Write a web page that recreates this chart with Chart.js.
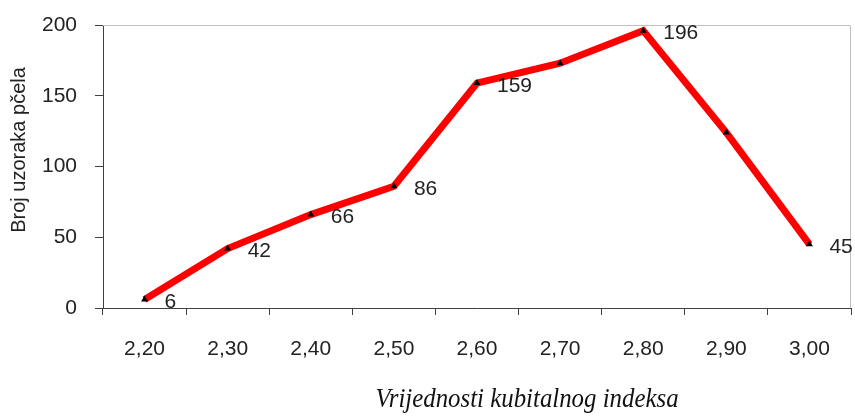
<!DOCTYPE html>
<html lang="hr">
  <head>
    <meta charset="UTF-8" />
    <title>Kubitalni indeks</title>
    <style>
      body {
        margin: 0;
        background: #fff;
      }
      .wrap {
        width: 855px;
        height: 418px;
      }
    </style>
  </head>
  <body>
    <script src="https://cdn.jsdelivr.net/npm/chart.js@4/dist/chart.umd.min.js"></script>

    <div class="wrap">
      <canvas id="line-chart"></canvas>
    </div>

    <script>
      // data
      const categories = ["2,20", "2,30", "2,40", "2,50", "2,60", "2,70", "2,80", "2,90", "3,00"];
      const counts = [6, 42, 66, 86, 159, 173, 196, 124, 45];
      // which points carry a value label
      const labelled = [true, true, true, true, true, false, true, false, true];
      const yTicks = [0, 50, 100, 150, 200];

      const yTitle = "Broj uzoraka pčela";
      const xTitle = "Vrijednosti kubitalnog indeksa";

      const axisColor = "#404040";
      const textColor = "#222";

      const extras = {
        id: "extras",
        beforeDatasetsDraw(chart) {
          const ctx = chart.ctx;
          const a = chart.chartArea;
          // light frame on top and right
          ctx.save();
          ctx.strokeStyle = "#c0c0c0";
          ctx.lineWidth = 1;
          ctx.beginPath();
          ctx.moveTo(a.left, a.top + 0.5);
          ctx.lineTo(a.right - 0.5, a.top + 0.5);
          ctx.lineTo(a.right - 0.5, a.bottom);
          ctx.stroke();
          ctx.restore();
        },
        afterDatasetsDraw(chart) {
          const ctx = chart.ctx;
          const meta = chart.getDatasetMeta(0);

          ctx.save();
          ctx.fillStyle = textColor;
          ctx.font = "21px 'Liberation Sans', Arial, sans-serif";
          ctx.textAlign = "left";
          ctx.textBaseline = "middle";
          meta.data.forEach((pt, i) => {
            if (!labelled[i]) return;
            ctx.fillText(String(counts[i]), pt.x + 20, pt.y + 3);
          });

          // y axis title
          ctx.save();
          ctx.translate(19, 150);
          ctx.rotate(-Math.PI / 2);
          ctx.textAlign = "center";
          ctx.font = "20px 'Liberation Sans', Arial, sans-serif";
          ctx.fillText(yTitle, 0, 0);
          ctx.restore();

          // x axis title (a bit narrow, like the original)
          ctx.save();
          ctx.translate(527, 407);
          ctx.scale(0.92, 1);
          ctx.textAlign = "center";
          ctx.textBaseline = "alphabetic";
          ctx.font = "italic 27px 'Liberation Serif', 'Times New Roman', serif";
          ctx.fillStyle = "#111";
          ctx.fillText(xTitle, 0, 0);
          ctx.restore();
          ctx.restore();
        }
      };

      new Chart(document.getElementById("line-chart"), {
        type: "line",
        data: {
          labels: categories,
          datasets: [
            {
              data: counts,
              borderColor: "#ff0000",
              borderWidth: 7,
              fill: false,
              tension: 0,
              pointStyle: "triangle",
              pointRadius: 4,
              pointBackgroundColor: "#000",
              pointBorderColor: "#000",
              pointBorderWidth: 0
            }
          ]
        },
        options: {
          responsive: true,
          maintainAspectRatio: false,
          animation: false,
          layout: {
            padding: { top: 25, right: 3, left: 0, bottom: 0 }
          },
          plugins: {
            legend: { display: false },
            tooltip: { enabled: false }
          },
          scales: {
            x: {
              type: "category",
              offset: true,
              afterFit: scale => {
                scale.height = 110;
                scale.paddingLeft = 0;
                scale.paddingRight = 0;
              },
              grid: {
                offset: true,
                drawOnChartArea: false,
                drawTicks: true,
                tickLength: 7,
                color: axisColor
              },
              border: { color: axisColor, width: 1 },
              ticks: {
                color: textColor,
                padding: 22,
                font: { family: "'Liberation Sans', Arial, sans-serif", size: 21 }
              }
            },
            y: {
              min: 0,
              max: 200,
              afterFit: scale => {
                scale.width = 103;
                scale.paddingTop = 0;
                scale.paddingBottom = 0;
              },
              afterBuildTicks: scale => {
                scale.ticks = yTicks.map(v => ({ value: v }));
              },
              grid: {
                drawOnChartArea: false,
                drawTicks: true,
                tickLength: 8,
                color: axisColor
              },
              border: { color: axisColor, width: 1 },
              ticks: {
                color: textColor,
                padding: 18,
                font: { family: "'Liberation Sans', Arial, sans-serif", size: 21 }
              }
            }
          }
        },
        plugins: [extras]
      });
    </script>
  </body>
</html>
